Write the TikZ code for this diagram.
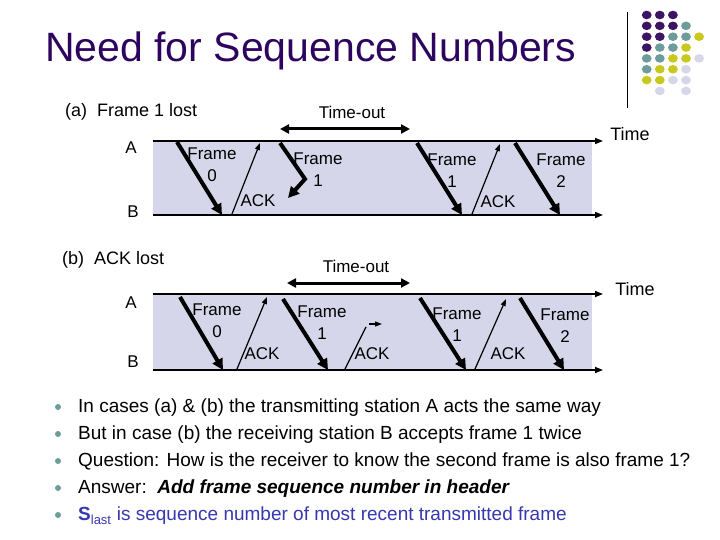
\documentclass[tikz,border=0pt]{standalone}
\usepackage{fontspec}
\setmainfont{Liberation Sans}
\usetikzlibrary{arrows.meta}

\definecolor{titlecol}{RGB}{45,5,95}
\definecolor{bandcol}{RGB}{214,214,234}
\definecolor{dotP}{RGB}{60,20,100}
\definecolor{dotT}{RGB}{110,155,155}
\definecolor{dotY}{RGB}{200,200,30}
\definecolor{dotL}{RGB}{214,214,234}
\definecolor{slastcol}{RGB}{55,55,175}

\tikzset{
  frm/.style={line width=4pt,-{Triangle[length=11pt,width=11pt]}},
  ack/.style={line width=1.2pt,-{Triangle[length=7pt,width=5pt]}},
  tline/.style={line width=1.5pt,-{Triangle[length=8pt,width=6pt]}},
  tout/.style={line width=3pt,{Triangle[length=9pt,width=9pt]}-{Triangle[length=9pt,width=9pt]}},
  lbl/.style={font=\fontsize{17}{22}\selectfont,align=center,inner sep=0pt},
  sub/.style={font=\fontsize{18}{20}\selectfont,inner sep=0pt},
  item/.style={font=\fontsize{19}{20}\selectfont,inner sep=0pt,anchor=base west},
}

\begin{document}
\begin{tikzpicture}[x=1pt,y=-1pt]
  \useasboundingbox (0,0) rectangle (720,540);
  % title and corner decoration
  \node[anchor=base west,inner sep=0pt,text=titlecol,font=\fontsize{41}{41}\selectfont] (title) at (45,62) {Need for Sequence Numbers};
  \draw[line width=1pt] (627,12)--(627,108);
  \foreach\c/\r/\col in {1/1/dotP,2/1/dotP,3/1/dotP,
    1/2/dotP,2/2/dotP,3/2/dotP,4/2/dotT,
    1/3/dotP,2/3/dotP,3/3/dotT,4/3/dotT,5/3/dotY,
    1/4/dotP,2/4/dotT,3/4/dotT,4/4/dotY,
    1/5/dotT,2/5/dotT,3/5/dotY,4/5/dotY,5/5/dotL,
    1/6/dotT,2/6/dotY,3/6/dotY,4/6/dotL,
    1/7/dotY,2/7/dotY,3/7/dotL,4/7/dotL,
    2/8/dotL,4/8/dotL}
    \fill[\col] ({646.7+13.1*(\c-1)},{15+10.85*(\r-1)}) ellipse (4.9 and 4.3);

  % (a) frame 1 lost
  \node[sub,anchor=west] (capa) at (65,112) {(a)\ \ Frame 1 lost};
  \node[font=\fontsize{17}{17}\selectfont,inner sep=0pt] (touta) at (352,112) {Time-out};
  \draw[tout] (280,129)--(410,129);
  \fill[bandcol] (153,141) rectangle (592,215);
  \draw[tline] (153,141)--(603,141);
  \draw[tline] (153,215)--(603,215);
  \node[lbl] (Aa) at (131,148) {A};
  \node[lbl] (Ba) at (133,212) {B};
  \node[sub] (timea) at (630,134) {Time};
  \draw[frm] (177,142)--(222,215);
  \draw[ack] (232,214)--(260,143);
  \draw[frm] (280,143)--(305,179)--(288,198);
  \draw[frm] (417,143)--(462,215);
  \draw[ack] (472,214)--(500,144);
  \draw[frm] (515,143)--(560,215);
  \node[lbl] (fa0) at (212,165) {Frame\\0};
  \node[lbl] (ackA) at (258,201) {ACK};
  \node[lbl] (fa1) at (318,170) {Frame\\1};
  \node[lbl] (fa1r) at (452,171) {Frame\\1};
  \node[lbl] (ackB) at (498,202) {ACK};
  \node[lbl] (fa2) at (561,171) {Frame\\2};

  % (b) ack lost
  \node[sub,anchor=west] (capb) at (62,260) {(b)\ \ ACK lost};
  \node[font=\fontsize{17}{17}\selectfont,inner sep=0pt] (toutb) at (356,266) {Time-out};
  \draw[tout] (287,283)--(410,283);
  \fill[bandcol] (153,294) rectangle (592,370);
  \draw[tline] (153,294)--(603,294);
  \draw[tline] (153,370)--(603,370);
  \node[lbl] (Ab) at (131,303) {A};
  \node[lbl] (Bb) at (133,362) {B};
  \node[sub] (timeb) at (635,289) {Time};
  \draw[frm] (180,297)--(223,370);
  \draw[ack] (237,369)--(267,297);
  \draw[frm] (283,299)--(328,370);
  \draw[line width=1.2pt] (345,369)--(366,327);
  \draw[ack] (369,324)--(382,324);
  \draw[frm] (420,298)--(466,370);
  \draw[ack] (475,369)--(506,299);
  \draw[frm] (520,298)--(564,370);
  \node[lbl] (fb0) at (217,321) {Frame\\0};
  \node[lbl] (ackC) at (262,354) {ACK};
  \node[lbl] (fb1) at (322,323) {Frame\\1};
  \node[lbl] (ackD) at (372,354) {ACK};
  \node[lbl] (fb1r) at (457,325) {Frame\\1};
  \node[lbl] (ackE) at (508,354) {ACK};
  \node[lbl] (fb2) at (565,326) {Frame\\2};

  % bullet points
  \foreach\i in {0,...,4}
    \fill[dotT] (58,{407+27*\i}) circle (3);
  \node[item] (l1) at (78,412) {In cases (a) \& (b) the transmitting station A acts the same way};
  \node[item] (l2) at (78,439.2) {But in case (b) the receiving station B accepts frame 1 twice};
  \node[item] (l3) at (78,466.4) {Question: How is the receiver to know the second frame is also frame 1?};
  \node[item] (l4) at (78,493.6) {Answer:\ \ \textbf{\textit{Add frame sequence number in header}}};
  \node[item,text=slastcol] (l5) at (78,520.8) {\textbf{S}\textsubscript{\fontsize{13}{13}\selectfont last} is sequence number of most recent transmitted frame};
\end{tikzpicture}
\end{document}
